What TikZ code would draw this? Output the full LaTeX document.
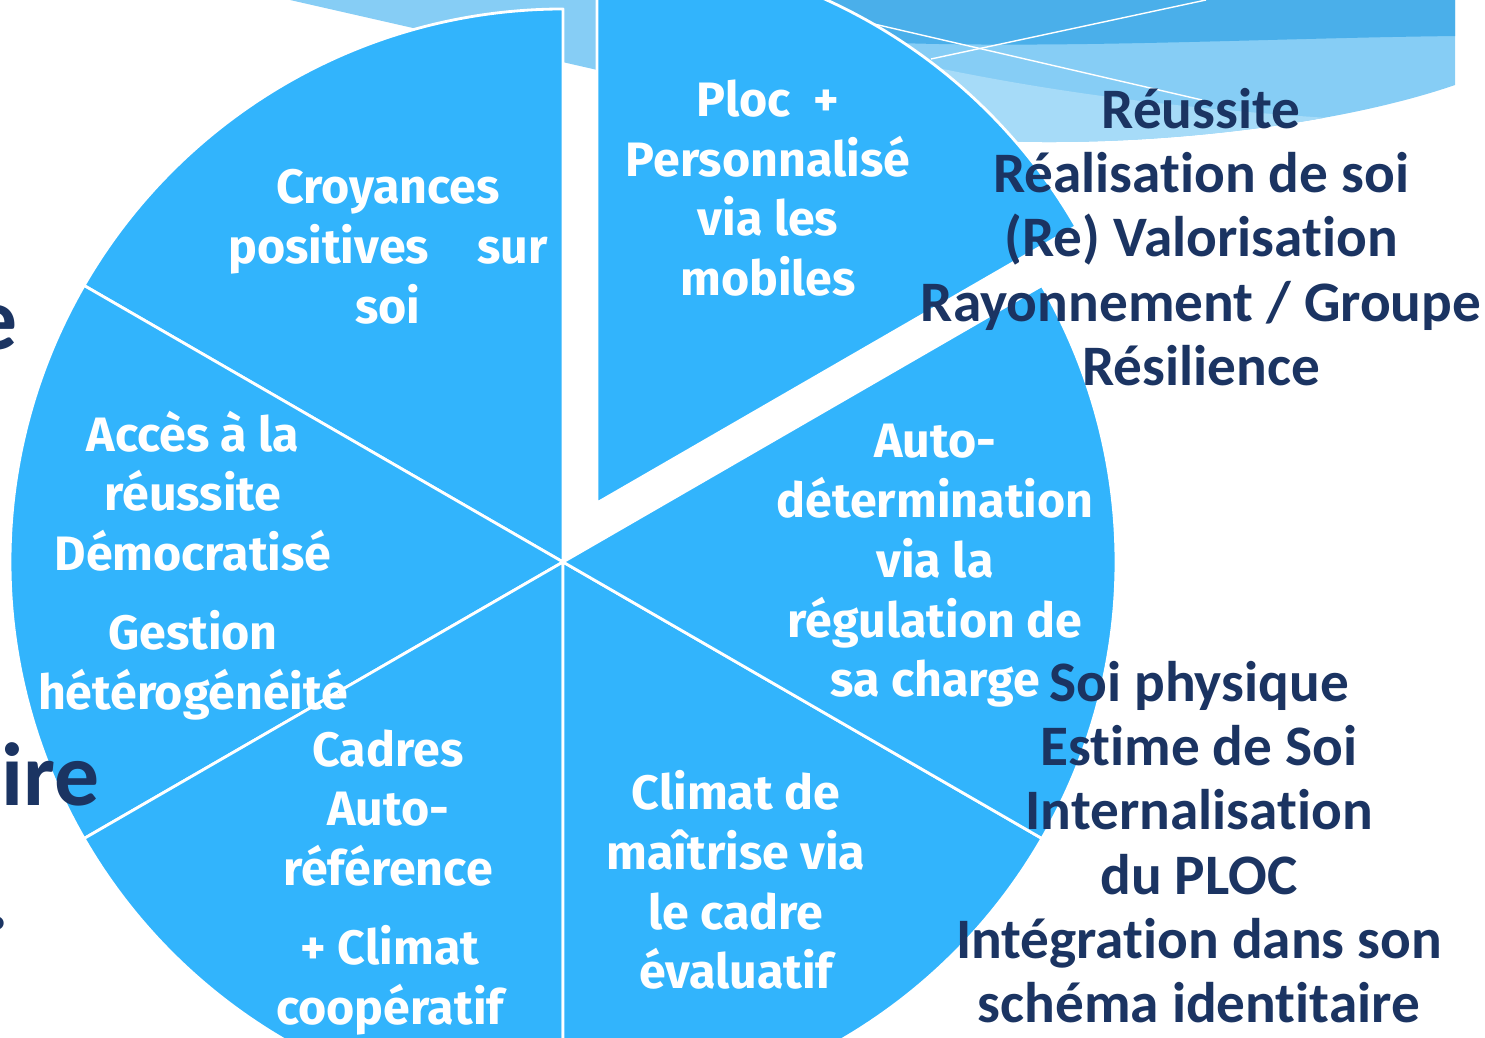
\documentclass[tikz,border=0pt]{standalone}
\usepackage{fontspec}
\setmainfont{Carlito}[Ligatures=NoCommon]
\newfontfamily\piefont{Fira Sans}
\definecolor{pieblue}{RGB}{50,180,252}
\definecolor{navy}{RGB}{27,52,98}
\definecolor{swlight}{RGB}{134,205,245}
\definecolor{swdark}{RGB}{74,175,234}
\definecolor{swpale}{RGB}{166,219,248}
\begin{document}
\begin{tikzpicture}[x=0.02cm,y=0.02cm]
    \tikzstyle{sector}=[fill=pieblue, draw=white, line width=1.6pt, line join=round]
    \tikzstyle{pietxt}=[text=white, align=center, inner sep=0pt, font=\piefont\bfseries\fontsize{27.5}{34}\selectfont]
    \tikzstyle{navytxt}=[text=navy, align=center, inner sep=0pt, font=\bfseries\fontsize{32.6}{36.6}\selectfont]
    \tikzstyle{bigtxt}=[text=navy, inner sep=0pt, anchor=base east, font=\bfseries\fontsize{51}{60}\selectfont]
    \useasboundingbox (0,0) rectangle (1485,1038);
    \clip (0,0) rectangle (1485,1038);
    % light blue swoosh at the top
    \begin{scope}
      \clip (290,1038) -- (593,969) .. controls (780,926) and (900,897) .. (1040,896)
            .. controls (1200,895) and (1360,920) .. (1455,953) -- (1455,1038) -- cycle;
      \fill[swlight] (0,0) rectangle (1485,1038);
      \fill[swdark] (800,1040) -- (800,1000) .. controls (1000,985) and (1250,1000) .. (1460,1002) -- (1460,1040) -- cycle;
      \fill[swpale] (900,978) .. controls (1050,945) and (1200,925) .. (1420,915) -- (1420,850) -- (900,850) -- cycle;
      \draw[white, line width=0.8pt] (874,1014) -- (1202,938);
      \draw[white, line width=0.8pt] (931,979) -- (1206,1038);
    \end{scope}
    % the pie, five sectors in place
    \coordinate (C) at (563,476);
    \foreach \a in {90,150,210,270,330} {
      \draw[sector] (C) -- ++(\a:553) arc[start angle=\a, delta angle=60, radius=553] -- cycle;}
    % the pulled-out sector
    \coordinate (Cp) at (597,535);
    \draw[sector] (Cp) -- ++(30:553) arc[start angle=30, end angle=90, radius=553] -- cycle;
    % texts in the sectors
    \node[pietxt] (croy) at (388,791) {Croyances\\positives\hspace{1em}sur\\soi};
    \node[pietxt] (ploc) at (768,850) {Ploc\ \ +\\Personnalisé\\via les\\mobiles};
    \node[pietxt] (autodet) at (935,472) {Auto-\\détermination\\via la\\régulation de\\sa charge};
    \node[pietxt] (acces) at (193,547) {Accès à la\\réussite\\Démocratisé};
    \node[pietxt] (gestion) at (193,373) {Gestion\\hétérogénéité};
    \node[pietxt] (cadres) at (388,230) {Cadres\\Auto-\\référence};
    \node[pietxt] (coop) at (390,58) {+ Climat\\coopératif};
    \node[pietxt] (maitrise) at (736,158) {Climat de\\maîtrise via\\le cadre\\évaluatif};
    % title letters cut at the left edge
    \node[bigtxt] (e) at (18,688) {e};
    \node[bigtxt] (ire) at (100,232) {ire};
    \node[bigtxt] (dot) at (10,108) {.};
    % outcomes on the right
    \node[navytxt] (gains) at (1201,801) {Réussite\\Réalisation de soi\\(Re) Valorisation\\Rayonnement / Groupe\\Résilience};
    \node[navytxt] (soi) at (1199,196) {Soi physique\\Estime de Soi\\Internalisation\\du PLOC\\Intégration dans son\\schéma identitaire};
\end{tikzpicture}
\end{document}
